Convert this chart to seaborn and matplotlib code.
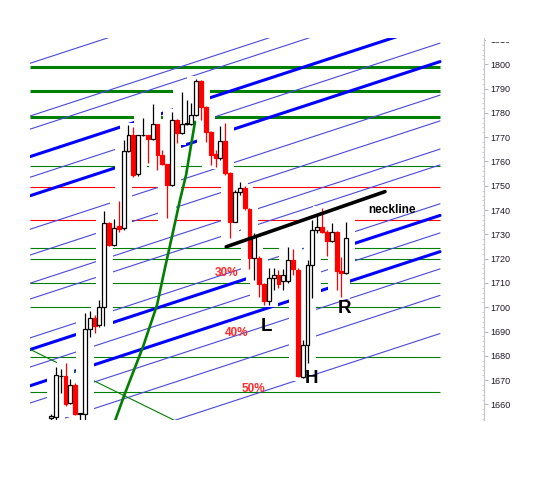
import matplotlib
matplotlib.use("Agg")
import matplotlib.pyplot as plt
from matplotlib.patches import Rectangle
from matplotlib.ticker import MultipleLocator
import seaborn as sns

# candles (one per bar, left to right)
opens = [1654.6, 1655.0, 1671.7, 1671.7, 1660.6, 1668.0, 1656.0, 1656.0, 1690.9, 1695.5,
         1692.7, 1700.0, 1734.6, 1725.6, 1733.5, 1732.5, 1764.3, 1770.8, 1754.7, 1770.8,
         1770.8, 1769.1, 1775.3, 1762.7, 1758.8, 1750.3, 1777.1, 1771.6, 1775.4, 1775.4,
         1779.1, 1793.1, 1782.6, 1772.3, 1763.1, 1761.3, 1768.4, 1755.4, 1735.2, 1747.3,
         1749.0, 1740.5, 1720.4, 1720.4, 1709.5, 1702.7, 1711.9, 1713.2, 1710.8, 1710.8,
         1719.5, 1715.3, 1671.4, 1684.5, 1717.4, 1731.8, 1733.2, 1731.1, 1727.4, 1731.1,
         1715.1, 1714.0]
highs = [1656.0, 1675.6, 1674.6, 1677.2, 1670.5, 1669.0, 1656.5, 1697.8, 1698.6, 1696.8,
         1703.0, 1739.6, 1735.1, 1736.3, 1743.7, 1768.8, 1775.0, 1774.1, 1770.9, 1777.8,
         1770.9, 1783.7, 1775.4, 1764.7, 1759.0, 1780.5, 1777.3, 1788.7, 1785.3, 1784.1,
         1794.0, 1793.5, 1782.8, 1772.5, 1764.7, 1774.6, 1775.7, 1755.6, 1748.3, 1751.7,
         1749.9, 1740.7, 1730.6, 1721.0, 1709.8, 1716.3, 1716.3, 1715.3, 1715.8, 1724.7,
         1724.0, 1716.2, 1686.5, 1719.5, 1735.9, 1738.0, 1740.7, 1731.8, 1734.8, 1731.5,
         1720.8, 1735.2]
lows = [1652.0, 1652.0, 1664.7, 1659.4, 1660.2, 1655.7, 1652.0, 1652.0, 1687.9, 1689.4,
        1692.0, 1692.4, 1725.2, 1725.2, 1731.0, 1731.8, 1763.9, 1753.7, 1754.0, 1770.5,
        1759.4, 1768.8, 1756.5, 1758.5, 1736.6, 1749.9, 1767.7, 1771.3, 1775.0, 1775.0,
        1778.7, 1777.1, 1768.1, 1758.6, 1757.9, 1760.6, 1754.4, 1728.4, 1735.1, 1746.2,
        1740.0, 1715.8, 1711.2, 1704.4, 1701.0, 1701.0, 1707.1, 1707.8, 1707.1, 1709.9,
        1713.3, 1671.2, 1670.8, 1677.1, 1703.8, 1730.6, 1730.6, 1721.1, 1727.0, 1707.1,
        1704.4, 1713.5]
closes = [1655.2, 1672.0, 1671.9, 1660.2, 1668.0, 1656.0, 1656.4, 1690.9, 1695.5, 1692.4,
          1700.2, 1734.6, 1725.6, 1732.5, 1732.2, 1764.3, 1770.8, 1754.4, 1770.8, 1771.0,
          1769.1, 1775.3, 1762.7, 1758.8, 1750.3, 1777.1, 1771.6, 1775.4, 1775.8, 1779.1,
          1793.1, 1782.6, 1772.3, 1762.7, 1761.3, 1768.4, 1755.1, 1735.2, 1747.3, 1749.0,
          1740.7, 1720.4, 1729.1, 1709.5, 1702.7, 1711.9, 1713.2, 1709.5, 1713.2, 1719.5,
          1715.8, 1671.7, 1684.5, 1717.4, 1731.8, 1733.2, 1731.1, 1727.4, 1731.1, 1715.1,
          1714.0, 1728.4]

# horizontal levels
green_thick_levels = [1799.0, 1789.1, 1778.4]
green_thin_levels = [1758.3, 1724.3, 1719.8, 1709.9, 1700.0, 1679.7, 1665.0]
red_levels = [1749.5, 1735.8]

# rising parallel lines: price at the left end, and total rise over the span
fan_thin_start = [1800.4, 1778.7, 1773.3, 1753.5, 1732.1, 1721.5, 1709.9, 1703.4,
                  1687.4, 1675.4, 1660.6, 1649.7, 1634.0]
fan_thick_start = [1762.0, 1745.9, 1682.6, 1667.7]
fan_rise = 55.2

# green arc
arc_x = [13.0, 15.3, 19.0, 21.9, 23.55, 25.2, 26.65, 27.9, 28.7, 29.75]
arc_y = [1652.0, 1664.7, 1683.7, 1700.9, 1716.2, 1731.0, 1744.2, 1754.4, 1763.9, 1776.3]

# falling thin green line
fall_x = [-4.34, 26.5]
fall_y = [1682.7, 1652.5]

# neckline
neck_x = [36.2, 69.0]
neck_y = [1724.9, 1747.6]

price_ticks = list(range(1660, 1811, 10))

x_left, x_right = -4.34, 89.46
line_end = 80.37
y_low, y_high = 1653.62, 1810.82

sns.set_style("white")
plt.rcParams['font.family'] = ['Liberation Sans', 'DejaVu Sans']

fig = plt.figure(figsize=(5.43, 5.0), dpi=100)
ax = fig.add_axes([30 / 543, 80 / 500, 454 / 543, 382 / 500])
ax.set_xlim(x_left, x_right)
ax.set_ylim(y_low, y_high)

ax.hlines(green_thick_levels, x_left, line_end, colors="#008000", lw=2.2, zorder=2)
ax.hlines(green_thin_levels, x_left, line_end, colors="#008000", lw=0.8, zorder=2)
ax.hlines(red_levels, x_left, line_end, colors="#ff0000", lw=0.8, zorder=2)

for p0 in fan_thin_start:
    ax.plot([x_left, line_end], [p0, p0 + fan_rise], color="#4848dc", lw=0.8, zorder=2)
for p0 in fan_thick_start:
    ax.plot([x_left, line_end], [p0, p0 + fan_rise], color="#0000ff", lw=2.2, zorder=2)

ax.plot(fall_x, fall_y, color="#008000", lw=0.8, zorder=2)

# white halo behind each bar (lines are broken around the bars)
for i in range(len(opens)):
    ax.add_patch(Rectangle((i - 1.8, lows[i] - 1.0), 3.6, highs[i] - lows[i] + 2.0,
                           facecolor="white", edgecolor="none", zorder=3))

w = 0.8
for i in range(len(opens)):
    o, h, l, c = opens[i], highs[i], lows[i], closes[i]
    up = c >= o
    col = "black" if up else "#ff0000"
    ax.vlines(i, l, h, colors=col, lw=0.9, zorder=4)
    ax.add_patch(Rectangle((i - w / 2, min(o, c)), w, abs(c - o),
                           facecolor="white" if up else "#ff0000",
                           edgecolor=col, lw=0.9, zorder=5))

sns.lineplot(x=arc_x, y=arc_y, ax=ax, color="#008000", lw=1.9, sort=False,
             estimator=None, zorder=6)
sns.lineplot(x=neck_x, y=neck_y, ax=ax, color="black", lw=2.6, sort=False,
             estimator=None, zorder=6)

ax.text(65.5, 1738.8, "neckline", fontsize=8.5, fontweight="bold", color="black",
        ha="left", va="baseline", zorder=7)
pct_style = dict(fontsize=8.5, fontweight="bold", color="#ff2a2a", ha="center",
                 va="baseline", zorder=7)
ax.text(36.2, 1712.9, "30%", **pct_style)
ax.text(38.4, 1688.2, "40%", **pct_style)
ax.text(41.9, 1665.3, "50%", **pct_style)
big_style = dict(fontsize=13.5, fontweight="bold", color="black", ha="center",
                 va="baseline", zorder=7)
ax.text(44.6, 1690.4, "L", **big_style)
ax.text(53.9, 1668.7, "H", **big_style)
ax.text(60.7, 1697.5, "R", **big_style)

for side in ["top", "left", "bottom"]:
    ax.spines[side].set_visible(False)
ax.spines["right"].set_color("#c4c4cc")
ax.spines["right"].set_linewidth(0.8)
ax.set_xticks([])
ax.yaxis.tick_right()
ax.set_yticks(price_ticks)
ax.yaxis.set_minor_locator(MultipleLocator(2))
ax.tick_params(axis="y", which="major", length=3, width=0.6, color="#a8a8b0",
               labelsize=6.5, labelcolor="#201828", pad=1.5)
ax.tick_params(axis="y", which="minor", length=1.5, width=0.6, color="#c8c8d0",
               direction="in")
ax.set_xlabel("")
ax.set_ylabel("")

# the top label is cut off in the original panel
fig.add_artist(Rectangle((486 / 543, 458 / 500), 57 / 543, 42 / 500,
                         transform=fig.transFigure, facecolor="white",
                         edgecolor="none", zorder=10))

fig.savefig("out.png", dpi=100)
